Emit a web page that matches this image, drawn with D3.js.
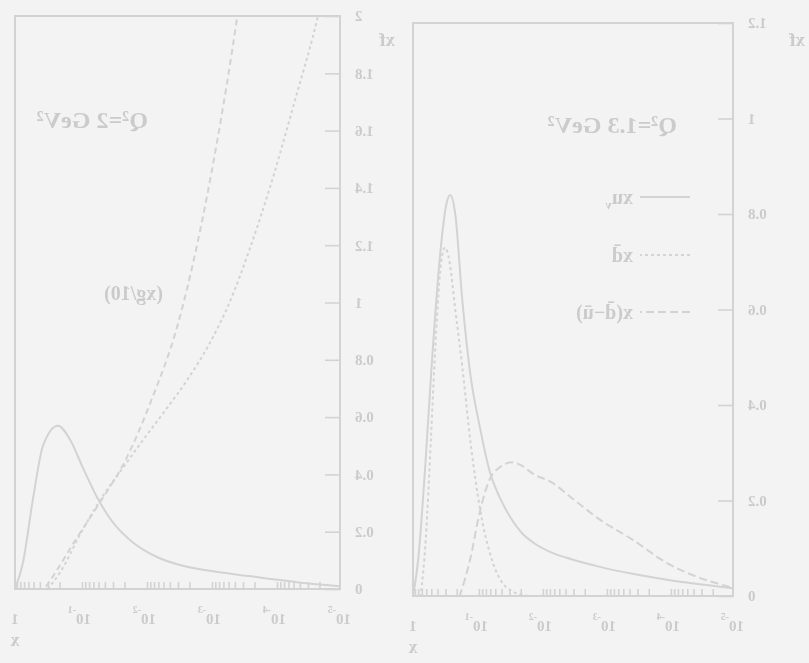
<!DOCTYPE html>
<html>
<head>
<meta charset="utf-8">
<script src="https://cdn.jsdelivr.net/npm/d3@7"></script>
<style>
  html, body { margin: 0; padding: 0; background: #f3f3f3; }
  svg { display: block; }
</style>
</head>
<body>
<svg id="chart" width="809" height="663"></svg>
<script>
// ---------------- data ----------------
// Panel A (Q² = 1.3 GeV²): three distributions, x given as log10(x)
const titleA = "Q²=1.3 GeV²";
const uvLogX  = [0, -0.08, -0.19, -0.30, -0.42, -0.52, -0.58, -0.66, -0.77, -0.89, -1.05, -1.20, -1.36, -1.52, -1.70, -1.90, -2.15, -2.40, -2.92, -3.45, -3.97, -4.45, -5.0];
const uvVal   = [0, 0.075, 0.27, 0.50, 0.71, 0.82, 0.84, 0.80, 0.62, 0.47, 0.35, 0.26, 0.205, 0.165, 0.132, 0.11, 0.092, 0.08, 0.061, 0.046, 0.034, 0.025, 0.016];
const dbLogX  = [-0.12, -0.20, -0.28, -0.36, -0.44, -0.50, -0.57, -0.66, -0.77, -0.90, -1.05, -1.20, -1.36, -1.55, -1.80];
const dbVal   = [0, 0.12, 0.33, 0.55, 0.70, 0.73, 0.70, 0.60, 0.48, 0.32, 0.18, 0.09, 0.035, 0.01, 0];
const seaLogX = [-0.73, -0.89, -1.05, -1.20, -1.36, -1.55, -1.67, -1.90, -2.14, -2.53, -2.92, -3.44, -3.97, -4.48, -4.95];
const seaVal  = [0, 0.075, 0.18, 0.245, 0.27, 0.28, 0.275, 0.254, 0.24, 0.20, 0.16, 0.117, 0.069, 0.038, 0.019];
const legendA = ["xu", "xd\u0304", "x(d\u0304\u2212u\u0304)"];
const legendSubA = ["v", "", ""];

// Panel B (Q² = 2 GeV²)
const titleB = "Q²=2 GeV²";
const curveLabelB = "(xg/10)";
const valLogX  = [0, -0.12, -0.28, -0.43, -0.66, -0.85, -1.05, -1.31, -1.55, -1.80, -2.20, -2.60, -3.10, -3.60, -4.30, -5.0];
const valVal   = [0, 0.09, 0.32, 0.50, 0.57, 0.52, 0.42, 0.30, 0.22, 0.165, 0.11, 0.08, 0.06, 0.045, 0.025, 0.01];
const glLogX   = [-0.45, -0.60, -0.90, -1.30, -1.70, -2.10, -2.50, -2.80, -3.10, -3.42, -3.60];
const glVal    = [0, 0.05, 0.16, 0.30, 0.45, 0.66, 0.92, 1.20, 1.55, 2.0, 2.3];
const sLogX    = [-0.50, -0.70, -1.00, -1.31, -1.65, -1.97, -2.30, -2.65, -3.00, -3.30, -3.60, -3.92, -4.30, -4.66, -4.85];
const sVal     = [0, 0.06, 0.19, 0.31, 0.42, 0.52, 0.62, 0.73, 0.86, 1.00, 1.18, 1.40, 1.70, 2.0, 2.2];

// axis ticks
const decadeTicks = [1e-5, 1e-4, 1e-3, 1e-2, 1e-1, 1];
const decadeExp   = [-5, -4, -3, -2, -1, 0];
const yTicksA = [0, 0.2, 0.4, 0.6, 0.8, 1, 1.2];
const yTicksB = [0, 0.2, 0.4, 0.6, 0.8, 1, 1.2, 1.4, 1.6, 1.8, 2];

// ---------------- drawing ----------------
const ink = "#d3d3d3";
const textInk = "#cbcbcb";
const serif = "'Liberation Serif', 'DejaVu Serif', serif";

const svg = d3.select("#chart");
const defs = svg.append("defs");
defs.append("filter").attr("id", "soft")
  .append("feGaussianBlur").attr("stdDeviation", 0.7);

// the whole figure is drawn reflected left-to-right
const root = svg.append("g")
  .attr("transform", "translate(809,0) scale(-1,1)")
  .attr("filter", "url(#soft)");

const minorLog = [];
for (let e = -5; e < 0; e++) for (let m = 2; m <= 9; m++) minorLog.push(m * Math.pow(10, e));

function panel(cfg) {
  const x = d3.scaleLog().domain([1e-5, 1]).range(cfg.xr);
  const y = d3.scaleLinear().domain([0, cfg.ymax]).range(cfg.yr);
  const g = root.append("g");

  const clipId = "clip" + cfg.id;
  defs.append("clipPath").attr("id", clipId).append("rect")
    .attr("x", cfg.xr[0]).attr("y", cfg.yr[1])
    .attr("width", cfg.xr[1] - cfg.xr[0]).attr("height", cfg.yr[0] - cfg.yr[1]);

  // frame
  g.append("rect")
    .attr("x", cfg.xr[0]).attr("y", cfg.yr[1])
    .attr("width", cfg.xr[1] - cfg.xr[0]).attr("height", cfg.yr[0] - cfg.yr[1])
    .attr("fill", "none").attr("stroke", ink).attr("stroke-width", 2);

  // bottom axis ticks (log)
  const bx = g.append("g").attr("transform", `translate(0,${cfg.yr[0]})`);
  bx.call(d3.axisBottom(x).tickValues(decadeTicks).tickSize(-15).tickFormat(""));
  bx.call(d3.axisBottom(x).tickValues(minorLog).tickSize(-7).tickFormat(""));
  bx.selectAll(".domain").remove();
  bx.selectAll("line").attr("stroke", ink).attr("stroke-width", 1.6);

  // left axis (major + minor)
  const minorY = d3.range(0, cfg.ymax + 1e-9, 0.05);
  const ly = g.append("g").attr("transform", `translate(${cfg.xr[0]},0)`);
  ly.call(d3.axisLeft(y).tickValues(minorY).tickSize(-7).tickFormat(""));
  ly.call(d3.axisLeft(y).tickValues(cfg.yTicks).tickSize(-15).tickPadding(15)
    .tickFormat(v => v === 0 ? "0" : String(+v.toFixed(1))));
  ly.selectAll(".domain").remove();
  ly.selectAll("line").attr("stroke", ink).attr("stroke-width", 1.6);
  ly.selectAll("text").attr("fill", textInk).attr("font-family", serif)
    .attr("font-size", 15).attr("font-weight", "bold");

  // bottom tick labels
  decadeTicks.forEach((v, i) => {
    const t = g.append("text").attr("y", cfg.yr[0] + 35)
      .attr("fill", textInk).attr("font-family", serif).attr("font-weight", "bold")
      .attr("font-size", 15);
    if (decadeExp[i] === 0) {
      t.attr("x", x(v)).attr("text-anchor", "middle").text("1");
    } else {
      t.attr("x", x(v) - 11).attr("text-anchor", "start");
      t.append("tspan").text("10");
      t.append("tspan").attr("dy", -11).attr("font-size", 10).text(String(decadeExp[i]));
    }
  });

  // axis titles
  g.append("text").attr("x", x(1)).attr("y", cfg.yr[0] + 57)
    .attr("text-anchor", "middle").attr("fill", textInk)
    .attr("font-family", serif).attr("font-size", 18).attr("font-weight", "bold").text("x");
  g.append("text").attr("x", cfg.xr[0] - cfg.yTitleGap).attr("y", 46)
    .attr("fill", textInk).attr("font-family", serif).attr("font-size", 19)
    .attr("font-weight", "bold").text("xf");

  // curves
  const line = d3.line().x(d => x(Math.pow(10, d[0]))).y(d => y(d[1]))
    .curve(d3.curveMonotoneX);
  const plot = g.append("g").attr("clip-path", `url(#${clipId})`);
  cfg.series.forEach(s => {
    const pts = s.lx.map((v, i) => [v, s.v[i]]).sort((a, b) => a[0] - b[0]);
    plot.append("path").attr("d", line(pts))
      .attr("fill", "none").attr("stroke", ink).attr("stroke-width", 2)
      .attr("stroke-dasharray", s.dash || null);
  });
  return { g, x, y };
}

// Panel A
const A = panel({
  id: "A", xr: [76, 396], yr: [596, 23], ymax: 1.2, yTicks: yTicksA, yTitleGap: 72,
  series: [
    { lx: uvLogX, v: uvVal },
    { lx: dbLogX, v: dbVal, dash: "3,3" },
    { lx: seaLogX, v: seaVal, dash: "8,4" }
  ]
});
A.g.append("text").attr("x", 132).attr("y", 133)
  .attr("fill", textInk).attr("font-family", serif).attr("font-size", 24)
  .attr("font-weight", "bold").text(titleA);
const legendDash = [null, "3,3", "8,4"];
const legendY = [197, 255, 312];
legendA.forEach((name, i) => {
  A.g.append("line").attr("x1", 119).attr("x2", 169)
    .attr("y1", legendY[i]).attr("y2", legendY[i])
    .attr("stroke", ink).attr("stroke-width", 2).attr("stroke-dasharray", legendDash[i]);
  const t = A.g.append("text").attr("x", 176).attr("y", legendY[i] + 7)
    .attr("fill", textInk).attr("font-family", serif).attr("font-size", 20)
    .attr("font-weight", "bold").text(name);
  if (legendSubA[i]) t.append("tspan").attr("dy", 5).attr("font-size", 13).text(legendSubA[i]);
});

// Panel B
const B = panel({
  id: "B", xr: [469, 794], yr: [589, 16], ymax: 2, yTicks: yTicksB, yTitleGap: 55,
  series: [
    { lx: valLogX, v: valVal },
    { lx: glLogX, v: glVal, dash: "6,4" },
    { lx: sLogX, v: sVal, dash: "3,3" }
  ]
});
B.g.append("text").attr("x", 661).attr("y", 128)
  .attr("fill", textInk).attr("font-family", serif).attr("font-size", 24)
  .attr("font-weight", "bold").text(titleB);
B.g.append("text").attr("x", 646).attr("y", 300)
  .attr("fill", textInk).attr("font-family", serif).attr("font-size", 20)
  .attr("font-weight", "bold").text(curveLabelB);
</script>
</body>
</html>
